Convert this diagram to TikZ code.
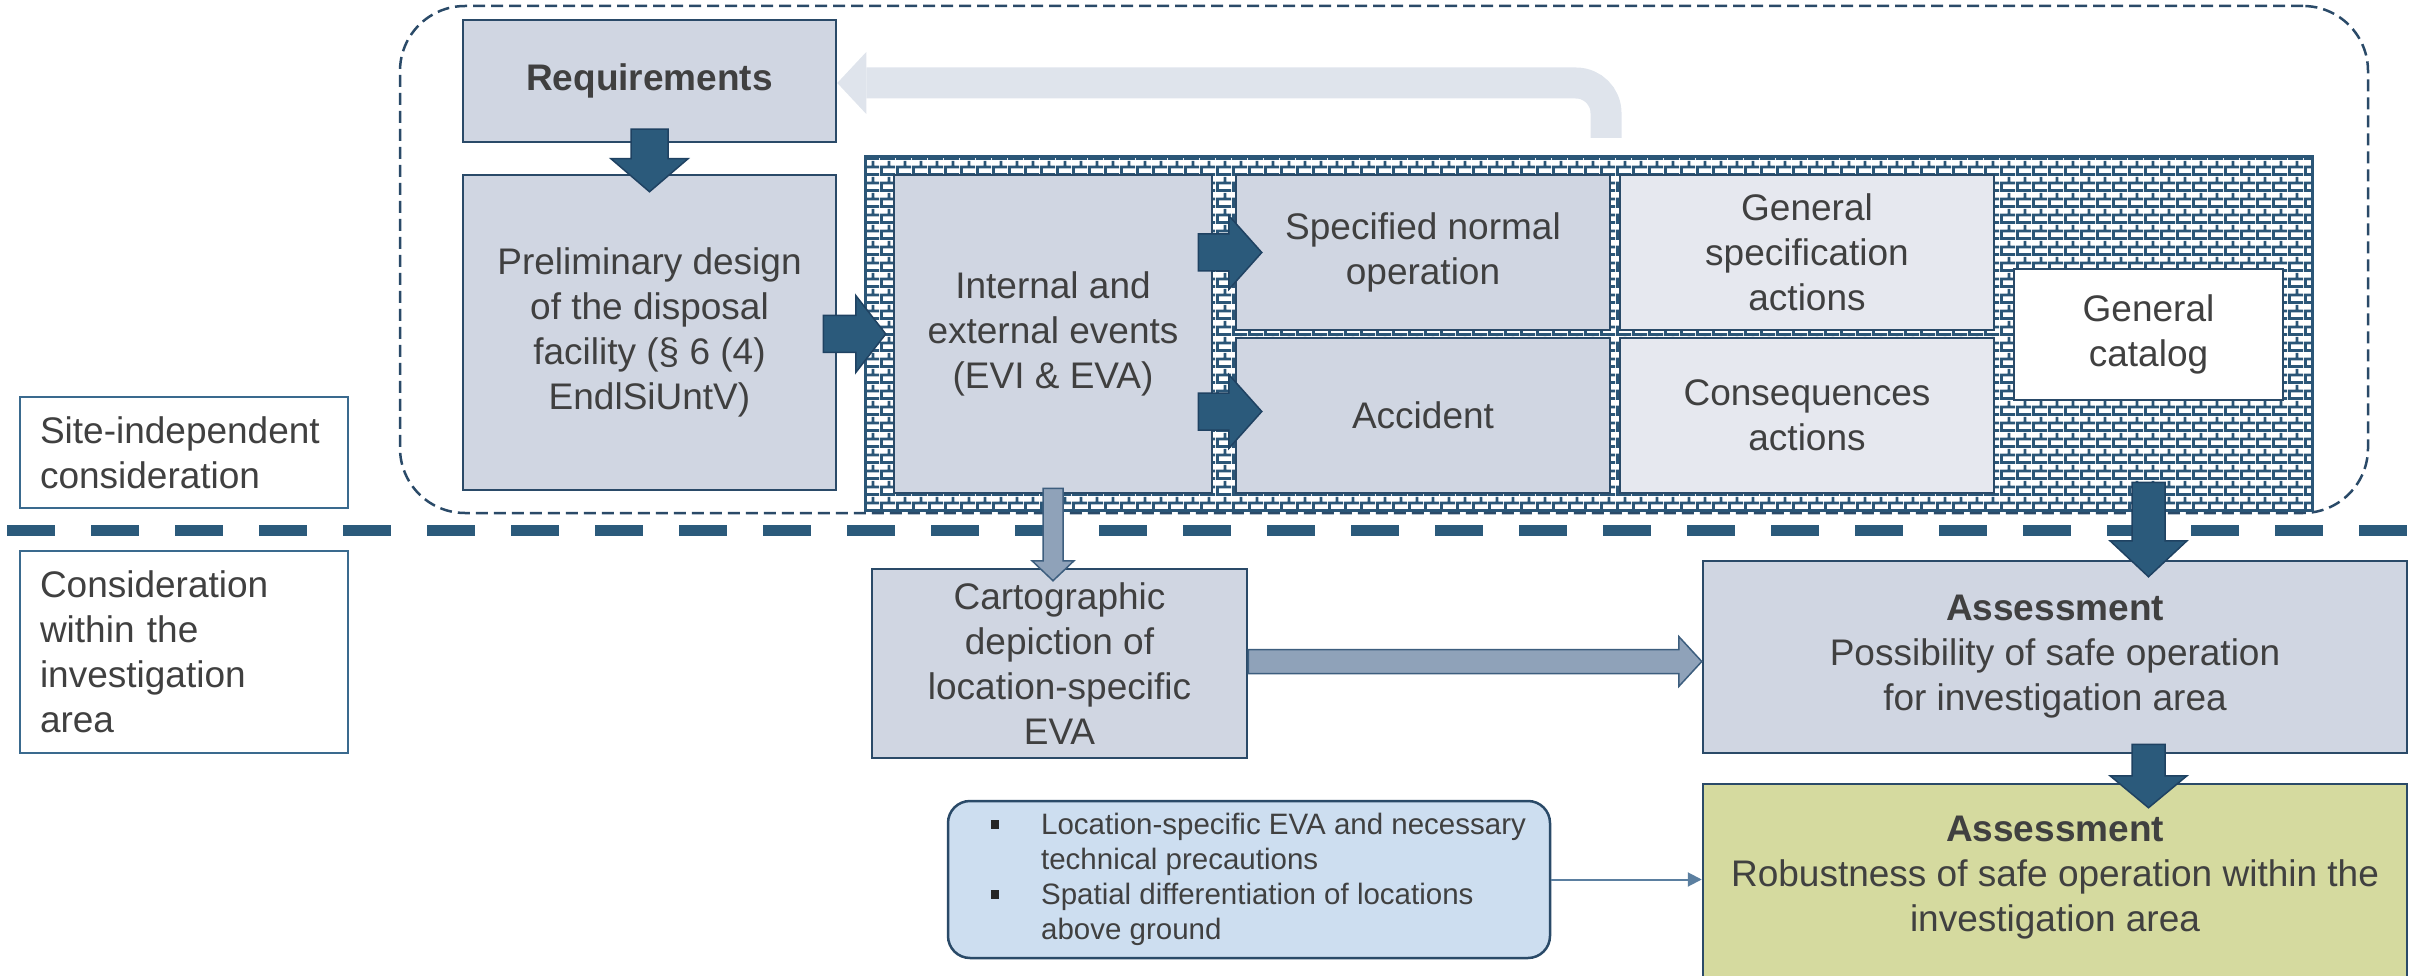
\documentclass[tikz,border=0pt]{standalone}
\usepackage{fontspec}
\setmainfont{Liberation Sans}
\usetikzlibrary{calc,patterns,arrows.meta}
\definecolor{bdr}{HTML}{2A4A68}
\definecolor{boxfill}{HTML}{D0D6E2}
\definecolor{lightfill}{HTML}{E6E8EF}
\definecolor{mortar}{HTML}{2B5677}
\definecolor{arrfill}{HTML}{2B5A7B}
\definecolor{arrdraw}{HTML}{1F4262}
\definecolor{larrfill}{HTML}{8FA2B9}
\definecolor{larrdraw}{HTML}{3D5E7E}
\definecolor{fbcol}{HTML}{DFE4EC}
\definecolor{txt}{HTML}{404040}
\definecolor{bulfill}{HTML}{CDDEF0}
\definecolor{olivefill}{HTML}{D5DA9F}
\definecolor{sepcol}{HTML}{2B5A7B}
\definecolor{thinarr}{HTML}{5B7FA0}
\definecolor{sideb}{HTML}{3A6A8E}
\pgfdeclarepatternformonly{brickwall}{\pgfqpoint{0pt}{0pt}}{\pgfqpoint{16pt}{16pt}}{\pgfqpoint{16pt}{16pt}}{%
  \pgfpathrectangle{\pgfqpoint{0pt}{0pt}}{\pgfqpoint{16pt}{3pt}}%
  \pgfpathrectangle{\pgfqpoint{0pt}{8pt}}{\pgfqpoint{16pt}{3pt}}%
  \pgfpathrectangle{\pgfqpoint{0pt}{3pt}}{\pgfqpoint{3pt}{5pt}}%
  \pgfpathrectangle{\pgfqpoint{8pt}{11pt}}{\pgfqpoint{3pt}{5pt}}%
  \pgfusepath{fill}}
\newcommand{\ArrDown}[6]{\path[#1] let \p1=(#2), \p2=(#3) in
  (\x1-#4pt,\y1) -- (\x1-#4pt,\y2+#6pt) -- (\x1-#5pt,\y2+#6pt) -- (\x1,\y2)
  -- (\x1+#5pt,\y2+#6pt) -- (\x1+#4pt,\y2+#6pt) -- (\x1+#4pt,\y1) -- cycle;}
\newcommand{\ArrRight}[6]{\path[#1] let \p1=(#2), \p2=(#3) in
  (\x1,\y1+#4pt) -- (\x2-#6pt,\y1+#4pt) -- (\x2-#6pt,\y1+#5pt) -- (\x2,\y1)
  -- (\x2-#6pt,\y1-#5pt) -- (\x2-#6pt,\y1-#4pt) -- (\x1,\y1-#4pt) -- cycle;}
\newcommand{\bsq}{\raisebox{5pt}{\textcolor{black!85}{\rule{7.5pt}{9pt}}}}
\tikzset{
  main/.style={font=\fontsize{37}{45}\selectfont, text=txt, align=center},
  box/.style={main, draw=bdr, line width=2.5pt, fill=boxfill, inner sep=0pt},
  lbox/.style={box, fill=lightfill},
  sidebox/.style={main, draw=sideb, line width=2pt, fill=white, align=left, text width=288pt, inner sep=0pt, minimum width=328pt},
  darr/.style={fill=arrfill, draw=arrdraw, line width=1.5pt},
  larr/.style={fill=larrfill, draw=larrdraw, line width=1.5pt},
}
\begin{document}
\begin{tikzpicture}[x=1pt,y=-1pt]
\useasboundingbox (0,0) rectangle (2410,976);
% dashed region
\node[draw=bdr, dash pattern=on 12pt off 6pt, line width=2.5pt, rounded corners=65pt,
  minimum width=1968pt, minimum height=507pt, inner sep=0pt] (Region) at (1384,259.5) {};
% boxes
\node[box, minimum width=373pt, minimum height=122pt] (Req) at (649.5,81) {\textbf{Requirements}};
% feedback arrow
\coordinate (fbS) at (1606,138);
\draw[fbcol, line width=31pt, rounded corners=30pt] (fbS) |- ($(Req.east)+(29,2)$);
\fill[fbcol] ($(Req.east)+(29,-29)$) -- ($(Req.east)+(0,2)$) -- ($(Req.east)+(29,33)$) -- cycle;
\node[draw=mortar, line width=3pt, fill=white, postaction={pattern=brickwall, pattern color=mortar},
  minimum width=1447pt, minimum height=353pt, inner sep=0pt] (Bricks) at (1588.5,333.5) {};
\node[box, minimum width=373pt, minimum height=315pt] (Pre) at (649.5,332.5)
  {Preliminary design\\of the disposal\\facility (§ 6 (4)\\EndlSiUntV)};
\node[box, minimum width=318pt, minimum height=318pt] (Int) at (1053,334)
  {Internal and\\external events\\(EVI \& EVA)};
\node[box, minimum width=374pt, minimum height=155pt] (Spec) at (1423,252.5) {Specified normal\\operation};
\node[box, minimum width=374pt, minimum height=155pt] (Acc) at (1423,415.5) {Accident};
\node[lbox, minimum width=374pt, minimum height=155pt] (Gen) at (1807,252.5) {General\\specification\\actions};
\node[lbox, minimum width=374pt, minimum height=155pt] (Con) at (1807,415.5) {Consequences\\actions};
\node[box, fill=white, minimum width=269pt, minimum height=131pt] (Cat) at (2148.5,334.5) {General\\catalog};
\node[box, minimum width=375pt, minimum height=189pt] (Car) at (1059.5,663.5)
  {Cartographic\\depiction of\\location-specific\\EVA};
\node[box, minimum width=704pt, minimum height=192pt] (A1) at (2055,657)
  {\textbf{Assessment}\\Possibility of safe operation\\for investigation area};
\node[box, fill=olivefill, minimum width=704pt, minimum height=222pt] (A2) at (2055,895) {};
\node[main] (A2t) at (2055,878) {\textbf{Assessment}\\Robustness of safe operation within the\\investigation area};
\node[draw=bdr, line width=2.5pt, fill=bulfill, rounded corners=22pt, minimum width=602pt, minimum height=157pt,
  inner sep=0pt, text=txt, font=\fontsize{29.5}{35}\selectfont] (Bul) at (1249,879.5)
  {\begin{tabular}{@{}p{69pt}@{}l@{}}
   \hspace*{19pt}\bsq & Location-specific EVA and necessary\\
   & technical precautions\\
   \hspace*{19pt}\bsq & Spatial differentiation of locations\\
   & above ground
   \end{tabular}};
% side labels
\node[sidebox, minimum height=111pt] (Site) at (184,452.5) {Site-independent\\consideration};
\node[sidebox, minimum height=202pt] (Cons) at (184,652) {Consideration\\within the\\investigation\\area};
% separator
\coordinate (sepL) at (7,530);
\coordinate (sepR) at (2410,530);
\draw[sepcol, line width=11pt, dash pattern=on 48pt off 36pt] (sepL) -- (sepR);
% block arrows
\ArrDown{darr}{$(Req.south)+(0,-14)$}{$(Pre.north)+(0,18)$}{18.5}{38.5}{33}
\ArrRight{darr}{$(Pre.east)+(-14,1.5)$}{$(Int.west)+(-7,0)$}{18.5}{38.5}{30}
\ArrRight{darr}{$(Int.east |- Spec.west)+(-15,0)$}{$(Spec.west)+(27,0)$}{18.5}{37}{33}
\ArrRight{darr}{$(Int.east |- Acc.west)+(-15,-4)$}{$(Acc.west)+(27,0)$}{18.5}{37}{33}
\ArrDown{larr}{$(Int.south)+(0,-6)$}{$(Int.south |- Car.north)+(0,13)$}{10}{21}{20}
\ArrRight{larr}{$(Car.east)+(0,-2)$}{A1.west}{12}{25}{23}
\ArrDown{darr}{$(Cat.south)+(0,81)$}{$(Cat.south |- A1.north)+(0,17)$}{16.5}{38.5}{36}
\ArrDown{darr}{$(Cat.south |- A1.south)+(0,-10)$}{$(Cat.south |- A2.north)+(0,25)$}{16.5}{38.5}{32}
\draw[thinarr, line width=2pt, -{Triangle[length=14pt,width=14pt]}] (Bul.east) -- (Bul.east -| A2.west);
\end{tikzpicture}
\end{document}
